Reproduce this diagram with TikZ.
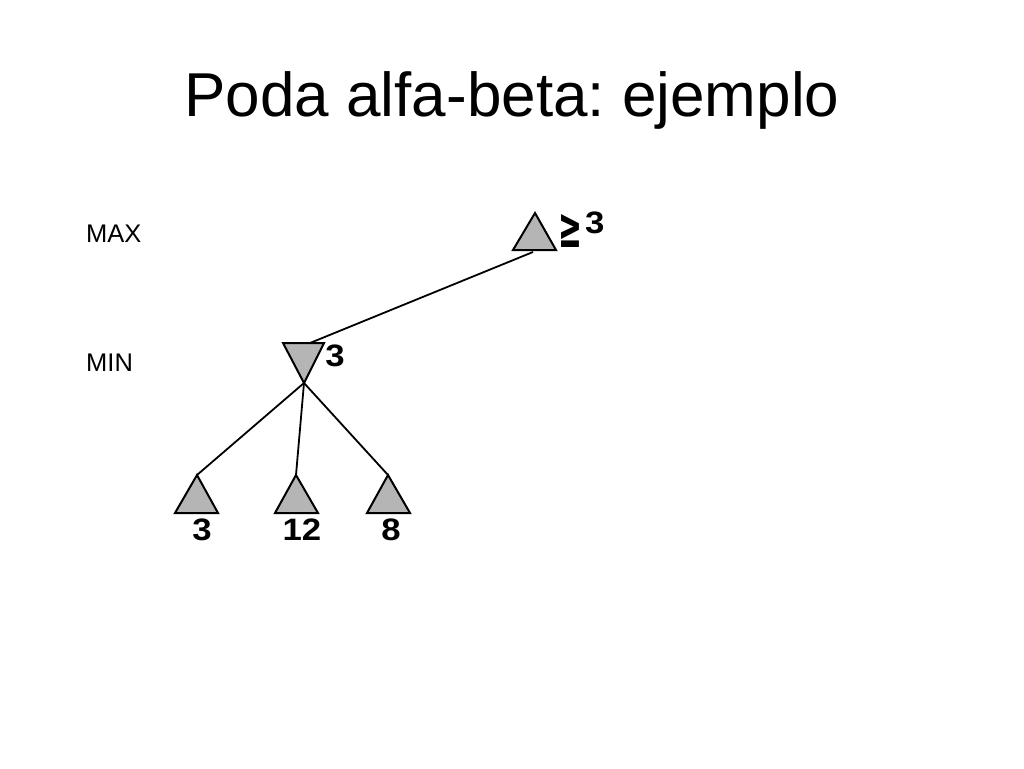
\documentclass[tikz,border=0pt]{standalone}
\usepackage{fontspec}
\setmainfont{Liberation Sans}
\newfontfamily\symfont{DejaVu Sans}
\frenchspacing
\begin{document}
\begin{tikzpicture}[x=1pt,y=-1pt,
  tri/.style={fill=black!29,draw=black,line width=2pt,line join=miter},
  edge/.style={draw=black,line width=1.8pt},
  lvl/.style={font=\fontsize{25.5}{26}\selectfont,anchor=west,inner sep=0pt},
  val/.style={font=\fontsize{31}{31}\selectfont\bfseries,inner sep=0pt}]
\useasboundingbox (0,0) rectangle (1024,768);
% title
\node[font=\fontsize{62}{62}\selectfont,inner sep=0pt] (title) at (512,100) {Poda alfa-beta: ejemplo};
% level labels
\node[lvl] (lmax) at (86,234) {MAX};
\node[lvl] (lmin) at (86,363) {MIN};
% MAX node
\coordinate (maxtop) at (535,213);
\coordinate (maxbl) at (513,250);
\coordinate (maxbr) at (556,250);
\coordinate (maxc) at (533,252);
\path[tri] (maxtop) -- (maxbr) -- (maxbl) -- cycle;
% MIN node
\coordinate (mintl) at (283,343);
\coordinate (mintr) at (324,343);
\coordinate (minbot) at (304,383);
\coordinate (mintop) at (310,343);
\path[tri] (mintl) -- (mintr) -- (minbot) -- cycle;
% leaves
\coordinate (la) at (197,475); \coordinate (lal) at (175,513); \coordinate (lar) at (218,513);
\coordinate (ma) at (296,475); \coordinate (mal) at (275,513); \coordinate (mar) at (318,513);
\coordinate (ra) at (388,475); \coordinate (ral) at (367,513); \coordinate (rar) at (410,513);
\path[tri] (la) -- (lar) -- (lal) -- cycle;
\path[tri] (ma) -- (mar) -- (mal) -- cycle;
\path[tri] (ra) -- (rar) -- (ral) -- cycle;
% edges
\draw[edge] (maxc) -- (mintop);
\draw[edge] (minbot) -- (la);
\draw[edge] (minbot) -- (ma);
\draw[edge] (minbot) -- (ra);
% values
\node[inner sep=0pt,font=\fontsize{42}{42}\selectfont\symfont\bfseries] (vmax1) at (570,231) {\scalebox{0.68}[1.35]{≥}};
\node[val,anchor=west] (vmax2) at (585,223) {\scalebox{1.12}[1]{3}};
\node[val] (vmin) at (335,356) {\scalebox{1.12}[1]{3}};
\node[val] (v1) at (202,530) {\scalebox{1.12}[1]{3}};
\node[val] (v2) at (302,530) {\scalebox{1.12}[1]{12}};
\node[val] (v3) at (391,530) {\scalebox{1.12}[1]{8}};
\end{tikzpicture}
\end{document}
